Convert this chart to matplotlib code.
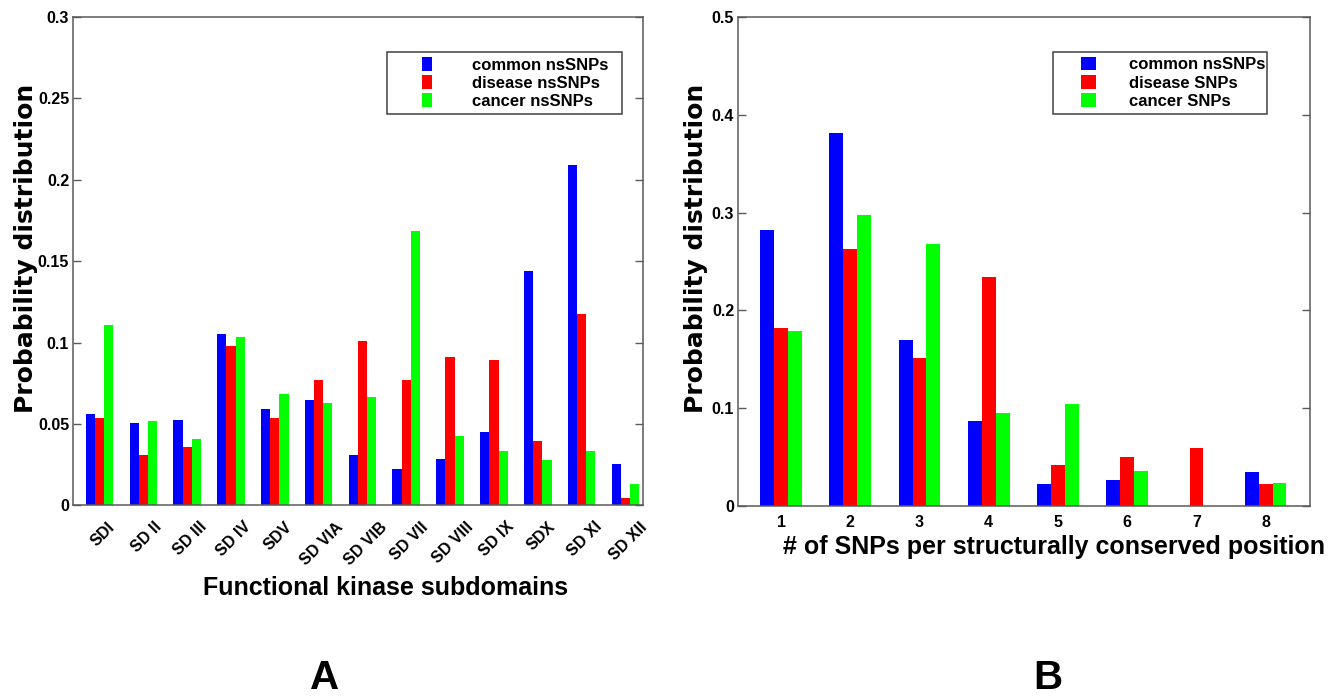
import matplotlib
matplotlib.use("Agg")
import matplotlib.pyplot as plt
import numpy as np
from matplotlib.patches import Patch, Rectangle
from matplotlib.legend_handler import HandlerPatch
from matplotlib.ticker import FuncFormatter
from matplotlib.transforms import ScaledTranslation

# ---------------- data ----------------
subdomains = ["SDI", "SD II", "SD III", "SD IV", "SDV", "SD VIA", "SD VIB",
              "SD VII", "SD VIII", "SD IX", "SDX", "SD XI", "SD XII"]
common_a = [0.0563, 0.0505, 0.0521, 0.1050, 0.0591, 0.0647, 0.0311,
            0.0225, 0.0282, 0.0450, 0.1440, 0.2088, 0.0254]
disease_a = [0.0536, 0.0307, 0.0358, 0.0980, 0.0536, 0.0769, 0.1008,
             0.0769, 0.0914, 0.0892, 0.0397, 0.1176, 0.0045]
cancer_a = [0.1110, 0.0515, 0.0409, 0.1035, 0.0683, 0.0626, 0.0663,
            0.1687, 0.0423, 0.0331, 0.0278, 0.0331, 0.0131]
labels_a = ["common nsSNPs", "disease nsSNPs", "cancer nsSNPs"]

snp_counts = ["1", "2", "3", "4", "5", "6", "7", "8"]
common_b = [0.2822, 0.3812, 0.1696, 0.0867, 0.0219, 0.0263, 0.0, 0.0345]
disease_b = [0.1816, 0.2625, 0.1509, 0.2345, 0.0417, 0.0502, 0.0588, 0.0222]
cancer_b = [0.1789, 0.2976, 0.2676, 0.0952, 0.1041, 0.0355, 0.0, 0.0236]
labels_b = ["common nsSNPs", "disease SNPs", "cancer SNPs"]

colors = ["#0000FF", "#FF0000", "#00FF00"]
FONT = ["Liberation Sans", "DejaVu Sans"]
SPINE = "#5a5a5a"

plt.rcParams["font.family"] = FONT
plt.rcParams["font.weight"] = "bold"

fig = plt.figure(figsize=(13.34, 6.97), dpi=100)
axA = fig.add_axes([0.05495, 0.27504, 0.42729, 0.70057])
axB = fig.add_axes([0.55345, 0.27446, 0.42856, 0.70072])


class RightPatch(HandlerPatch):
    def __init__(self, frac, **kw):
        super().__init__(**kw)
        self.frac = frac

    def create_artists(self, legend, orig_handle, xdescent, ydescent,
                       width, height, fontsize, trans):
        w = width * self.frac
        p = Rectangle((-xdescent + width - w, -ydescent), w, height,
                      facecolor=orig_handle.get_facecolor(),
                      edgecolor="none", transform=trans)
        return [p]


def style_axes(ax, ymax, ystep, xlim):
    ax.set_xlim(*xlim)
    ax.set_ylim(0, ymax)
    ax.set_yticks(np.arange(0, ymax + ystep / 2, ystep))
    ax.yaxis.set_major_formatter(FuncFormatter(lambda v, p: f"{v:g}"))
    ax.tick_params(axis="y", which="both", direction="in", length=5.8,
                   width=1.0, color=SPINE, left=True, right=True,
                   labelsize=11.5, pad=3)
    for s in ax.spines.values():
        s.set_color(SPINE)
        s.set_linewidth(1.1)
    for lab in ax.get_yticklabels():
        lab.set_fontweight("bold")


def draw_bars(ax, xs, series, width):
    offs = [-width, 0.0, width]
    for vals, c, o in zip(series, colors, offs):
        ax.bar(np.asarray(xs) + o, vals, width=width, color=c,
               edgecolor="none", linewidth=0)


# ---------------- panel A ----------------
xa = np.arange(1, len(subdomains) + 1)
draw_bars(axA, xa, [common_a, disease_a, cancer_a], 0.21)
style_axes(axA, 0.3, 0.05, (0.40, 13.41))
axA.set_xticks(xa)
axA.set_xticklabels(subdomains, rotation=45, ha="center", va="top",
                    fontsize=11.5, fontweight="bold")
axA.tick_params(axis="x", length=0, pad=10)
for lab in axA.get_xticklabels():
    lab.set_transform(lab.get_transform() +
                      ScaledTranslation(0.03, 0, fig.dpi_scale_trans))
axA.set_xlabel("Functional kinase subdomains", fontsize=18,
               fontweight="bold")
axA.xaxis.set_label_coords(0.547, -0.145)
axA.set_ylabel("Probability distribution", fontsize=18, fontweight="bold",
               family=["DejaVu Sans"])
axA.yaxis.set_label_coords(-0.062, 0.527)

hA = [Patch(facecolor=c) for c in colors]
legA = axA.legend(hA, labels_a, loc="upper left",
                  bbox_to_anchor=(0.5504, 0.7283, 0.4123, 0.2),
                  mode="expand", borderaxespad=0, fontsize=12,
                  handlelength=2.4, handleheight=0.87, handletextpad=2.4,
                  borderpad=0.3, labelspacing=0.15, fancybox=False,
                  framealpha=1, edgecolor="#404040",
                  handler_map={Patch: RightPatch(0.25)},
                  prop={"family": FONT, "weight": "bold", "size": 12})
legA.get_frame().set_linewidth(1.1)

# ---------------- panel B ----------------
xb = np.arange(1, len(snp_counts) + 1)
draw_bars(axB, xb, [common_b, disease_b, cancer_b], 0.2)
style_axes(axB, 0.5, 0.1, (0.383, 8.64))
axB.set_xticks(xb)
axB.set_xticklabels(snp_counts, fontsize=11.5, fontweight="bold")
axB.tick_params(axis="x", length=0, pad=6.8)
axB.set_xlabel("# of SNPs per structurally conserved position", fontsize=18,
               fontweight="bold")
axB.xaxis.set_label_coords(0.553, -0.059)
axB.set_ylabel("Probability distribution", fontsize=18, fontweight="bold",
               family=["DejaVu Sans"])
axB.yaxis.set_label_coords(-0.053, 0.527)

hB = [Patch(facecolor=c) for c in colors]
legB = axB.legend(hB, labels_b, loc="upper left",
                  bbox_to_anchor=(0.5505, 0.729, 0.3743, 0.2),
                  mode="expand", borderaxespad=0, fontsize=12,
                  handlelength=2.28, handleheight=0.87, handletextpad=1.96,
                  borderpad=0.3, labelspacing=0.15, fancybox=False,
                  framealpha=1, edgecolor="#404040",
                  handler_map={Patch: RightPatch(0.4)},
                  prop={"family": FONT, "weight": "bold", "size": 12})
legB.get_frame().set_linewidth(1.1)

# ---------------- panel letters ----------------
fig.text(325 / 1334, 1 - 689 / 697, "A", fontsize=29, fontweight="bold",
         ha="center", va="baseline")
fig.text(1047.5 / 1334, 1 - 689 / 697, "B", fontsize=29, fontweight="bold",
         ha="center", va="baseline")

fig.savefig("out.png", dpi=100)
